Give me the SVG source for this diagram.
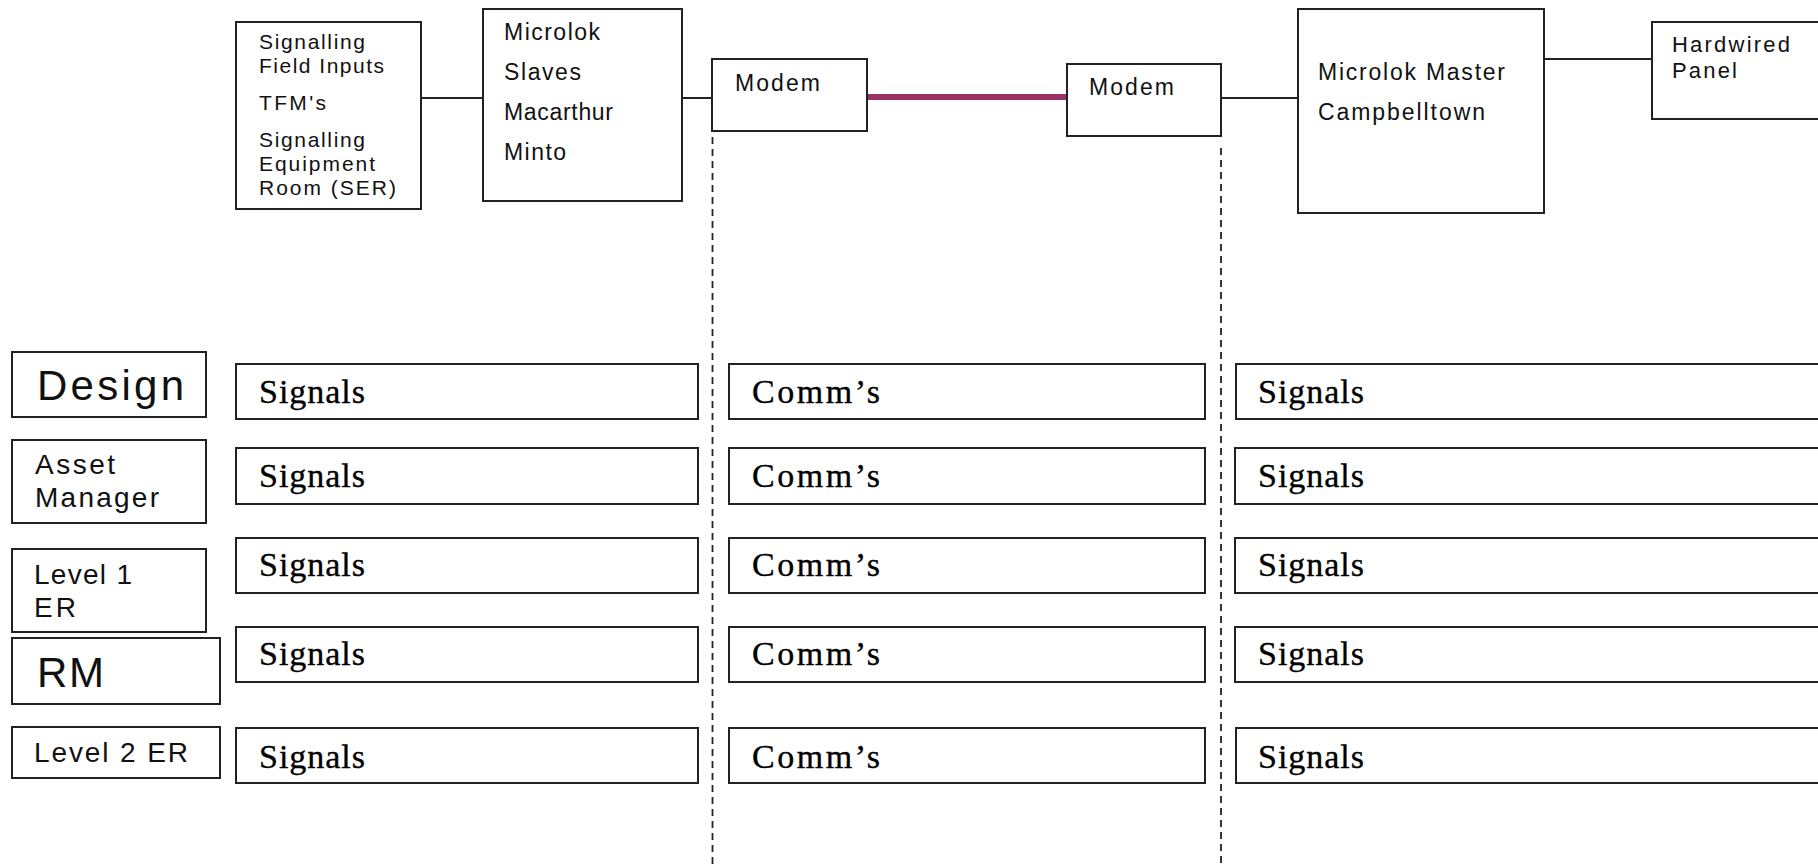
<svg xmlns="http://www.w3.org/2000/svg" width="1818" height="867" viewBox="0 0 1818 867">
  <style>
    .box { fill: #ffffff; stroke: #222222; stroke-width: 2; }
    .sans { font-family: "Liberation Sans", Arial, sans-serif; fill: #111111; }
    .serif { font-family: "Liberation Serif", "Times New Roman", serif; fill: #000000; font-size: 34px; stroke: #000000; stroke-width: 0.35; }
    .s21 { font-size: 21px; }
    .s23 { font-size: 23px; }
    .s22 { font-size: 22px; }
    .s28 { font-size: 28px; }
    .s42 { font-size: 42px; }
    .wire { stroke: #222222; stroke-width: 2; fill: none; }
    .link { stroke: #993366; stroke-width: 6; fill: none; }
    .divider { stroke: #222222; stroke-width: 1.8; stroke-dasharray: 7 5; fill: none; }
  </style>
  <rect width="1818" height="867" fill="#ffffff"/>

  <!-- zone dividers -->
  <g id="dividers">
    <line class="divider" x1="712.5" y1="137" x2="712.5" y2="867"/>
    <line class="divider" x1="1221" y1="148" x2="1221" y2="867"/>
  </g>

  <!-- connectors along the signalling chain -->
  <g id="connectors">
    <line class="wire" x1="421" y1="98" x2="483" y2="98"/>
    <line class="wire" x1="682" y1="98" x2="712" y2="98"/>
    <line class="link" x1="867" y1="97" x2="1067" y2="97"/>
    <line class="wire" x1="1221" y1="98" x2="1298" y2="98"/>
    <line class="wire" x1="1544" y1="59" x2="1652" y2="59"/>
  </g>

  <!-- top chain -->
  <g id="field-inputs">
    <rect class="box" x="236" y="22" width="185" height="187"/>
    <text class="sans s21" x="259" y="49" textLength="106" lengthAdjust="spacing">Signalling</text>
    <text class="sans s21" x="259" y="73" textLength="125" lengthAdjust="spacing">Field Inputs</text>
    <text class="sans s21" x="259" y="110" textLength="67" lengthAdjust="spacing">TFM's</text>
    <text class="sans s21" x="259" y="147" textLength="106" lengthAdjust="spacing">Signalling</text>
    <text class="sans s21" x="259" y="171" textLength="116" lengthAdjust="spacing">Equipment</text>
    <text class="sans s21" x="259" y="195" textLength="137" lengthAdjust="spacing">Room (SER)</text>
  </g>

  <g id="microlok-slaves">
    <rect class="box" x="483" y="9" width="199" height="192"/>
    <text class="sans s23" x="504" y="40" textLength="96" lengthAdjust="spacing">Microlok</text>
    <text class="sans s23" x="504" y="80" textLength="77" lengthAdjust="spacing">Slaves</text>
    <text class="sans s23" x="504" y="120" textLength="109" lengthAdjust="spacing">Macarthur</text>
    <text class="sans s23" x="504" y="160" textLength="62" lengthAdjust="spacing">Minto</text>
  </g>

  <g id="modem-a">
    <rect class="box" x="712" y="59" width="155" height="72"/>
    <text class="sans s23" x="735" y="91" textLength="85" lengthAdjust="spacing">Modem</text>
  </g>

  <g id="modem-b">
    <rect class="box" x="1067" y="64" width="154" height="72"/>
    <text class="sans s23" x="1089" y="95" textLength="85" lengthAdjust="spacing">Modem</text>
  </g>

  <g id="microlok-master">
    <rect class="box" x="1298" y="9" width="246" height="204"/>
    <text class="sans s23" x="1318" y="80" textLength="187" lengthAdjust="spacing">Microlok Master</text>
    <text class="sans s23" x="1318" y="120" textLength="167" lengthAdjust="spacing">Campbelltown</text>
  </g>

  <g id="hardwired-panel">
    <rect class="box" x="1652" y="22" width="200" height="97"/>
    <text class="sans s22" x="1672" y="52" textLength="118" lengthAdjust="spacing">Hardwired</text>
    <text class="sans s22" x="1672" y="78" textLength="65" lengthAdjust="spacing">Panel</text>
  </g>

  <!-- role labels -->
  <g id="role-design">
    <rect class="box" x="12" y="352" width="194" height="65"/>
    <text class="sans s42" x="37" y="400" textLength="147" lengthAdjust="spacing">Design</text>
  </g>
  <g id="role-asset-manager">
    <rect class="box" x="12" y="440" width="194" height="83"/>
    <text class="sans s28" x="35" y="474" textLength="80" lengthAdjust="spacing">Asset</text>
    <text class="sans s28" x="35" y="507" textLength="124" lengthAdjust="spacing">Manager</text>
  </g>
  <g id="role-level1-er">
    <rect class="box" x="12" y="549" width="194" height="83"/>
    <text class="sans s28" x="34" y="584" textLength="98" lengthAdjust="spacing">Level 1</text>
    <text class="sans s28" x="34" y="617" textLength="42" lengthAdjust="spacing">ER</text>
  </g>
  <g id="role-rm">
    <rect class="box" x="12" y="638" width="208" height="66"/>
    <text class="sans s42" x="37" y="687" textLength="67" lengthAdjust="spacing">RM</text>
  </g>
  <g id="role-level2-er">
    <rect class="box" x="12" y="727" width="208" height="51"/>
    <text class="sans s28" x="34" y="762" textLength="154" lengthAdjust="spacing">Level 2 ER</text>
  </g>

  <!-- responsibility matrix: field side -->
  <g id="field-signals">
    <rect class="box" x="236" y="364" width="462" height="55"/>
    <text class="serif" x="259" y="403" textLength="106" lengthAdjust="spacing">Signals</text>
    <rect class="box" x="236" y="448" width="462" height="56"/>
    <text class="serif" x="259" y="487" textLength="106" lengthAdjust="spacing">Signals</text>
    <rect class="box" x="236" y="538" width="462" height="55"/>
    <text class="serif" x="259" y="576" textLength="106" lengthAdjust="spacing">Signals</text>
    <rect class="box" x="236" y="627" width="462" height="55"/>
    <text class="serif" x="259" y="665" textLength="106" lengthAdjust="spacing">Signals</text>
    <rect class="box" x="236" y="728" width="462" height="55"/>
    <text class="serif" x="259" y="768" textLength="106" lengthAdjust="spacing">Signals</text>
  </g>

  <!-- responsibility matrix: communications link -->
  <g id="link-comms">
    <rect class="box" x="729" y="364" width="476" height="55"/>
    <text class="serif" x="752" y="403" textLength="128" lengthAdjust="spacing">Comm’s</text>
    <rect class="box" x="729" y="448" width="476" height="56"/>
    <text class="serif" x="752" y="487" textLength="128" lengthAdjust="spacing">Comm’s</text>
    <rect class="box" x="729" y="538" width="476" height="55"/>
    <text class="serif" x="752" y="576" textLength="128" lengthAdjust="spacing">Comm’s</text>
    <rect class="box" x="729" y="627" width="476" height="55"/>
    <text class="serif" x="752" y="665" textLength="128" lengthAdjust="spacing">Comm’s</text>
    <rect class="box" x="729" y="728" width="476" height="55"/>
    <text class="serif" x="752" y="768" textLength="128" lengthAdjust="spacing">Comm’s</text>
  </g>

  <!-- responsibility matrix: control centre side -->
  <g id="control-signals">
    <rect class="box" x="1236" y="364" width="620" height="55"/>
    <text class="serif" x="1258" y="403" textLength="106" lengthAdjust="spacing">Signals</text>
    <rect class="box" x="1235" y="448" width="620" height="56"/>
    <text class="serif" x="1258" y="487" textLength="106" lengthAdjust="spacing">Signals</text>
    <rect class="box" x="1235" y="538" width="620" height="55"/>
    <text class="serif" x="1258" y="576" textLength="106" lengthAdjust="spacing">Signals</text>
    <rect class="box" x="1235" y="627" width="620" height="55"/>
    <text class="serif" x="1258" y="665" textLength="106" lengthAdjust="spacing">Signals</text>
    <rect class="box" x="1236" y="728" width="620" height="55"/>
    <text class="serif" x="1258" y="768" textLength="106" lengthAdjust="spacing">Signals</text>
  </g>
</svg>
